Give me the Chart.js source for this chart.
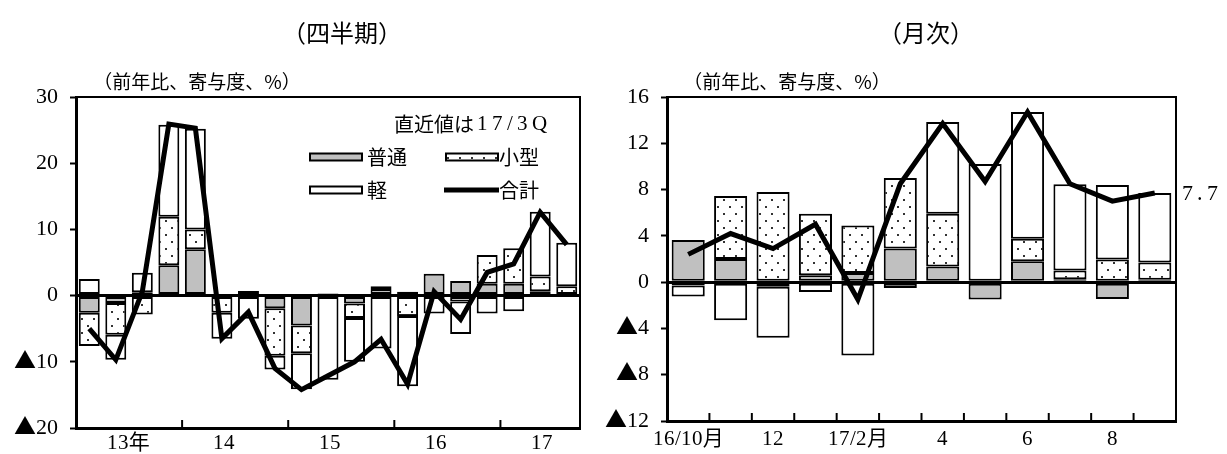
<!DOCTYPE html>
<html><head><meta charset="utf-8">
<script src="https://cdn.jsdelivr.net/npm/chart.js@4.4.1/dist/chart.umd.min.js"></script>
<style>
@font-face { font-family: 'NumSerif'; src: local('Liberation Serif'), local('LiberationSerif'); unicode-range: U+0000-00FF; }
@font-face { font-family: 'NumSerif'; src: local('Noto Sans CJK JP Regular'), local('NotoSansCJKjp-Regular'), local('Noto Sans CJK JP'); unicode-range: U+25B2; }
html,body{margin:0;padding:0;background:#fff;}
#wrap{position:relative;width:1227px;height:454px;overflow:hidden;background:#fff;}
canvas{position:absolute;top:0;}
#c1{left:0;width:600px;height:454px;}
#c2{left:600px;width:627px;height:454px;}
</style></head><body>
<div id="wrap"><canvas id="c1" width="600" height="454"></canvas><canvas id="c2" width="627" height="454"></canvas></div>
<script>
// ---------- Quarterly data (13/1Q .. 17/3Q) ----------
const quarters = ['13/1Q','13/2Q','13/3Q','13/4Q','14/1Q','14/2Q','14/3Q','14/4Q','15/1Q','15/2Q','15/3Q','15/4Q','16/1Q','16/2Q','16/3Q','16/4Q','17/1Q','17/2Q','17/3Q'];
const quarterTickLabels = ['','13年','','','','14','','','','15','','','','16','','','','17',''];
const qFutsu  = [-2.6, -1.1,  0.5,  4.6,  7.0, -0.2,  0.4, -1.9, -4.5,   0.0, -1.2,  1.0,  0.6,  3.3,  2.2,  1.8,  1.8, 0.65, -0.2];
const qKogata = [-5.0, -4.8, -2.85, 7.3,  3.0, -2.4,  0.3, -7.2, -4.2,   0.3, -2.2,  0.4, -3.1,  0.0, -0.9, 4.35, 5.35, 2.25,  1.4];
const qKei    = [ 2.5, -3.8,  2.95, 13.9, 15.2, -3.9, -3.5, -2.05, -5.45, -12.7, -6.6, -8.0, -10.6, -2.7, -4.9, -2.7, -2.35, 9.75, 6.6];
const qTotal  = [-5.0, -9.7,  0.6, 25.9, 25.3, -6.5, -2.5, -11.0, -14.2, -12.1, -10.0, -6.6, -13.4, 0.6, -3.6,  3.5,  4.8, 12.6,  7.7];
const qYTicks = {min: -20, max: 30, step: 10};

// ---------- Monthly data (16/10 .. 17/9) ----------
const months = ['16/10','16/11','16/12','17/1','17/2','17/3','17/4','17/5','17/6','17/7','17/8','17/9'];
const monthTickLabels = ['16/10月','','12','','17/2月','','4','','6','','8',''];
const mFutsu  = [3.65, 2.0, -0.4, 0.6, 0.8, 2.9, 1.35, -1.5, 1.8, 0.25, -1.45, 0.2];
const mKogata = [-0.3, 5.45, 7.8, 5.3, 4.1, 6.1, 4.55, 0.0, 1.95, 0.75, 1.95, 1.5];
const mKei    = [-0.95, -3.3, -4.4, -0.85, -6.35, -0.5, 7.95, 10.2, 10.95, 7.45, 6.45, 6.0];
const mTotal  = [2.4, 4.2, 2.9, 5.0, -1.5, 8.5, 13.7, 8.7, 14.7, 8.5, 7.0, 7.7];
const mYTicks = {min: -12, max: 16, step: 4};

const seriesNames = ['普通','小型','軽','合計'];
const titles = ['（四半期）','（月次）'];
const unitLabel = '（前年比、寄与度、%）';
const latestNote = ['直近値は', '17/3Q'];

const NUMF = "NumSerif, 'Noto Sans CJK JP', serif";
const CJKF = "'Noto Sans CJK JP', 'Liberation Serif', sans-serif";
const GRAY = '#c0c0c0';

function makePattern(ctx){
  const t = document.createElement('canvas'); t.width = 12; t.height = 14;
  const g = t.getContext('2d');
  g.fillStyle = '#fff'; g.fillRect(0,0,12,14);
  g.fillStyle = '#333'; g.fillRect(3,3,2,2); g.fillRect(9,10,2,2);
  return ctx.createPattern(t,'repeat');
}

function datasets(f, k, kei, tot, pat, bp){
  const bar = {type:'bar', borderColor:'#000', borderWidth:2, borderSkipped:false, order:1, stack:'bars', barPercentage:bp, categoryPercentage:1.0};
  return [
    {type:'line', label:seriesNames[3], data:tot, borderColor:'#000', borderWidth:5, pointRadius:0, tension:0,
     borderJoinStyle:'miter', borderCapStyle:'butt', fill:false, order:0, stack:'line'},
    Object.assign({label:seriesNames[0], data:f, backgroundColor:GRAY}, bar),
    Object.assign({label:seriesNames[1], data:k, backgroundColor:pat}, bar),
    Object.assign({label:seriesNames[2], data:kei, backgroundColor:'#fff'}, bar)
  ];
}

function yScale(t, width, pad){
  return {
    stacked:true, min:t.min, max:t.max,
    ticks:{stepSize:t.step, color:'#000', padding:pad, font:{family:NUMF, size:22},
      callback:(v)=> v < 0 ? '▲' + Math.abs(v) : String(v)},
    grid:{drawOnChartArea:true, drawTicks:true, tickLength:6, tickWidth:2, tickColor:'#000',
      color:(c)=> (c.tick && c.tick.value === 0) ? '#000' : 'rgba(0,0,0,0)',
      lineWidth:(c)=> (c.tick && c.tick.value === 0) ? 3 : 1},
    border:{display:true, color:'#000', width:3},
    afterFit:(s)=>{ s.width = width; }
  };
}

function xScale(height, tickOpts){
  return {
    stacked:true, offset:true,
    grid:{display:false, drawTicks:false},
    border:{display:true, color:'#000', width:3},
    ticks:Object.assign({autoSkip:false, maxRotation:0, minRotation:0, color:'#000', font:{family:NUMF, size:21}}, tickOpts),
    afterFit:(s)=>{ s.height = height; }
  };
}

function framePlugin(boundaries, text){
  return {
    id:'frame',
    afterDraw(chart){
      const {ctx, chartArea:a} = chart;
      const xs = chart.scales.x;
      ctx.save();
      ctx.strokeStyle = '#000'; ctx.lineWidth = 2;
      ctx.strokeRect(a.left, a.top, a.right - a.left, a.bottom - a.top);
      boundaries.forEach(i => {
        const x = (xs.getPixelForValue(i-1) + xs.getPixelForValue(i)) / 2;
        ctx.beginPath(); ctx.moveTo(x, a.bottom); ctx.lineTo(x, a.bottom - 8); ctx.stroke();
      });
      ctx.restore();
      text(chart);
    }
  };
}

function drawText(ctx, s, x, y, font, align, spacing){
  ctx.save();
  ctx.font = font; ctx.fillStyle = '#000'; ctx.textAlign = align || 'left'; ctx.textBaseline = 'middle';
  if (spacing) ctx.letterSpacing = spacing + 'px';
  ctx.fillText(s, x, y);
  ctx.restore();
}

function build(){
  // ---------- Chart 1 ----------
  const ctx1 = document.getElementById('c1').getContext('2d');
  const pat1 = makePattern(ctx1);
  const qBoundaries = quarters.map((q,i)=> (i>0 && q.endsWith('/1Q')) ? i : -1).filter(i=>i>0);

  new Chart(ctx1, {
    data:{labels:quarterTickLabels, datasets:datasets(qFutsu, qKogata, qKei, qTotal, pat1, 0.79)},
    options:{
      responsive:false, animation:false, devicePixelRatio:1,
      layout:{padding:{left:0, right:20, top:97, bottom:0}},
      plugins:{legend:{display:false}, tooltip:{enabled:false}, title:{display:false}},
      scales:{
        x:xScale(26, {padding:3, align:'start', labelOffset:-9}),
        y:yScale(qYTicks, 76, 12)
      }
    },
    plugins:[framePlugin(qBoundaries, (chart)=>{
      const ctx = chart.ctx;
      drawText(ctx, titles[0], 342, 33, '24px ' + CJKF, 'center');
      drawText(ctx, unitLabel, 197, 82, '19px ' + CJKF, 'center');
      ctx.save();
      ctx.font = '21px ' + NUMF; ctx.letterSpacing = '4px';
      const w2 = ctx.measureText(latestNote[1]).width;
      ctx.restore();
      drawText(ctx, latestNote[1], 551, 124, '21px ' + NUMF, 'right', 4);
      drawText(ctx, latestNote[0], 549 - w2 - 1, 124, '20px ' + CJKF, 'right');
      const patch = (x, y, fill) => {
        ctx.save(); ctx.fillStyle = fill; ctx.fillRect(x, y-3.5, 52, 7);
        ctx.strokeStyle = '#000'; ctx.lineWidth = 2; ctx.strokeRect(x, y-3.5, 52, 7); ctx.restore();
      };
      patch(310, 157, GRAY); drawText(ctx, seriesNames[0], 367, 157, '20px ' + CJKF, 'left');
      patch(446, 157, pat1); drawText(ctx, seriesNames[1], 499, 157, '20px ' + CJKF, 'left');
      patch(310, 190, '#fff'); drawText(ctx, seriesNames[2], 367, 190, '20px ' + CJKF, 'left');
      ctx.save(); ctx.strokeStyle = '#000'; ctx.lineWidth = 5; ctx.beginPath(); ctx.moveTo(444,190); ctx.lineTo(499,190); ctx.stroke(); ctx.restore();
      drawText(ctx, seriesNames[3], 499, 190, '20px ' + CJKF, 'left');
    })]
  });

  // ---------- Chart 2 ----------
  const ctx2 = document.getElementById('c2').getContext('2d');
  const pat2 = makePattern(ctx2);
  const mBoundaries = months.map((m,i)=>i).filter(i=>i>0);

  new Chart(ctx2, {
    data:{labels:monthTickLabels, datasets:datasets(mFutsu, mKogata, mKei, mTotal, pat2, 0.78)},
    options:{
      responsive:false, animation:false, devicePixelRatio:1,
      layout:{padding:{left:0, right:51, top:97, bottom:0}},
      plugins:{legend:{display:false}, tooltip:{enabled:false}, title:{display:false}},
      scales:{
        x:xScale(33, {padding:6}),
        y:yScale(mYTicks, 67, 12)
      }
    },
    plugins:[framePlugin(mBoundaries, (chart)=>{
      const ctx = chart.ctx;
      drawText(ctx, titles[1], 326, 33, '24px ' + CJKF, 'center');
      drawText(ctx, unitLabel, 187, 82, '19px ' + CJKF, 'center');
      const meta = chart.getDatasetMeta(0);
      const last = meta.data[meta.data.length - 1];
      const v = mTotal[mTotal.length - 1];
      drawText(ctx, v.toFixed(1), last.x + 27, last.y + 1, '22px ' + NUMF, 'left', 4);
    })]
  });
}

Promise.all([
  document.fonts.load('22px NumSerif', '0123456789▲'),
  document.fonts.load('20px "Noto Sans CJK JP"', '普通小型軽合計')
]).then(build, build);
</script>
</body></html>
